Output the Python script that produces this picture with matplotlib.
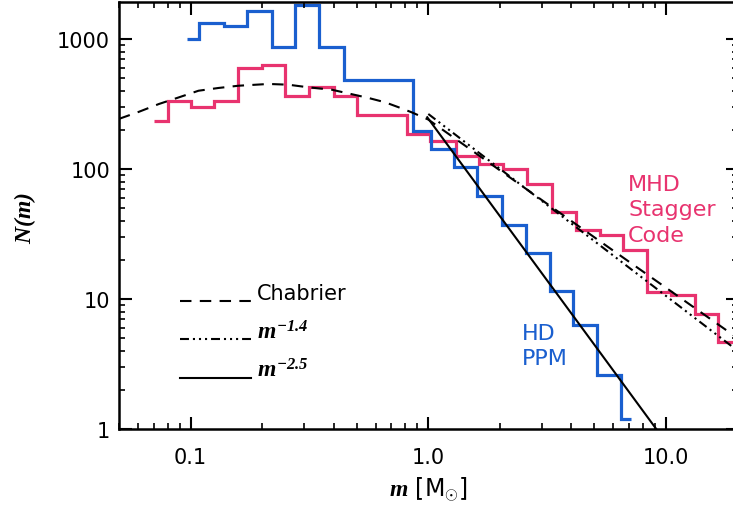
import matplotlib
matplotlib.use('Agg')
import matplotlib.pyplot as plt
from matplotlib.ticker import FixedLocator, FixedFormatter, LogLocator, NullFormatter

plt.rcParams['font.family'] = ['DejaVu Sans']
plt.rcParams['mathtext.fontset'] = 'custom'
plt.rcParams['mathtext.it'] = 'Liberation Serif:italic:bold'
plt.rcParams['mathtext.rm'] = 'Liberation Serif:italic:bold'
plt.rcParams['mathtext.bf'] = 'Liberation Serif:italic:bold'

# ---------------- data ----------------
# MHD Stagger Code histogram (step edges in M_sun, counts)
mhd_edges = [0.070, 0.080, 0.100, 0.125, 0.159, 0.200, 0.250, 0.316, 0.400, 0.500,
             0.810, 1.02, 1.31, 1.64, 2.07, 2.61, 3.31, 4.17, 5.28, 6.62,
             8.30, 10.5, 13.2, 16.6, 21.0]
mhd_counts = [233, 333, 301, 335, 598, 631, 366, 430, 366, 260,
              185, 165, 125, 109, 100, 77, 46.4, 33.8, 30.8, 24,
              11.3, 10.8, 7.7, 4.65]

# HD PPM histogram
hd_edges = [0.097, 0.108, 0.138, 0.173, 0.220, 0.274, 0.346, 0.444, 0.865, 1.026,
            1.285, 1.61, 2.05, 2.57, 3.26, 4.08, 5.14, 6.46, 7.13]
hd_counts = [1000, 1330, 1265, 1640, 864, 1840, 864, 486, 195, 142,
             103, 62, 37.3, 22.5, 11.5, 6.35, 2.6, 1.19]

# Chabrier IMF
chab_m = [0.050, 0.0605, 0.0735, 0.089, 0.108, 0.131, 0.159, 0.213, 0.258, 0.313,
          0.393, 0.474, 0.560, 0.658, 0.748, 0.851, 1.0, 5.23, 20.0]
chab_n = [243, 275, 316, 355, 400, 420, 437, 451, 445, 425,
          407, 377, 352, 326, 299, 273, 240, 28.1, 5.0]

# power laws
pl14_m = [1.0, 20.0]
pl14_n = [265, 4.0]
pl25_m = [0.99, 10.0]
pl25_n = [250, 0.79]

xticks = [0.1, 1.0, 10.0]
xticklabels = ['0.1', '1.0', '10.0']
yticks = [1, 10, 100, 1000]
yticklabels = ['1', '10', '100', '1000']

legend_labels = ['Chabrier', r'$m^{-1.4}$', r'$m^{-2.5}$']

PINK = '#E8336F'
BLUE = '#1A5FCF'

# ---------------- figure ----------------
W, H = 733, 506
fig = plt.figure(figsize=(W / 100, H / 100), dpi=100)
L, R, T, B = 119, 737.6, 2.7, 430
ax = fig.add_axes([L / W, (H - B) / H, (R - L) / W, (B - T) / H])
ax.set_xscale('log')
ax.set_yscale('log')
ax.set_xlim(0.05, 20)
ax.set_ylim(1, 1936)


def px2ax(x, y):
    return ((x - L) / (R - L), (B - y) / (B - T))


dash_ls = (0, (5.5, 4.0))
ddd_ls = (0, (4.3, 1.9, 1.0, 1.9, 1.0, 1.9, 1.0, 1.9))
LW = 1.5

ax.stairs(mhd_counts, mhd_edges, baseline=None, color=PINK, lw=2.3)
ax.stairs(hd_counts, hd_edges, baseline=None, color=BLUE, lw=2.3)
ax.plot(chab_m, chab_n, color='black', lw=LW, linestyle=dash_ls)
ax.plot(pl14_m, pl14_n, color='black', lw=LW, linestyle=ddd_ls)
ax.plot(pl25_m, pl25_n, color='black', lw=LW, linestyle='-')

# legend (drawn manually)
rows = [(301.5, dash_ls), (340, ddd_ls), (378.5, '-')]
sizes = [15, 17, 17]
for (yy, ls), lab, fs in zip(rows, legend_labels, sizes):
    x0, y0 = px2ax(180, yy)
    x1, _ = px2ax(251, yy)
    ax.plot([x0, x1], [y0, y0], transform=ax.transAxes, color='black', lw=LW,
            linestyle=ls, clip_on=False)
    tx, ty = px2ax(257, yy - 1)
    ax.text(tx, ty, lab, transform=ax.transAxes, fontsize=fs, va='baseline', ha='left')

# annotations
tx, ty = px2ax(628, 210.5)
ax.text(tx, ty, 'MHD\nStagger\nCode', transform=ax.transAxes, color=PINK,
        fontsize=16, ha='left', va='center', linespacing=1.37)
tx, ty = px2ax(522, 346.5)
ax.text(tx, ty, 'HD\nPPM', transform=ax.transAxes, color=BLUE,
        fontsize=16, ha='left', va='center', linespacing=1.37)

# ticks
ax.xaxis.set_major_locator(FixedLocator(xticks))
ax.xaxis.set_major_formatter(FixedFormatter(xticklabels))
ax.xaxis.set_minor_locator(LogLocator(base=10, subs=range(2, 10), numticks=20))
ax.xaxis.set_minor_formatter(NullFormatter())
ax.yaxis.set_major_locator(FixedLocator(yticks))
ax.yaxis.set_major_formatter(FixedFormatter(yticklabels))
ax.yaxis.set_minor_locator(LogLocator(base=10, subs=range(2, 10), numticks=20))
ax.yaxis.set_minor_formatter(NullFormatter())

ax.tick_params(which='both', direction='in', top=True, right=True, colors='black')
ax.tick_params(which='major', length=9, width=1.5, labelsize=15)
ax.tick_params(which='minor', length=4.3, width=1.2)
ax.tick_params(axis='x', which='major', pad=13)
ax.tick_params(axis='y', which='major', pad=6.5)
for sp in ax.spines.values():
    sp.set_linewidth(1.8)

fig.text(25 / W, 1 - 218 / H, r'$N(m)$', rotation=90, fontsize=17, ha='center', va='center')
fig.text(428 / W, 1 - 497 / H, r'$m$ [M$_{\odot}$]', fontsize=17, ha='center', va='baseline')

fig.savefig('out.png', dpi=100)
